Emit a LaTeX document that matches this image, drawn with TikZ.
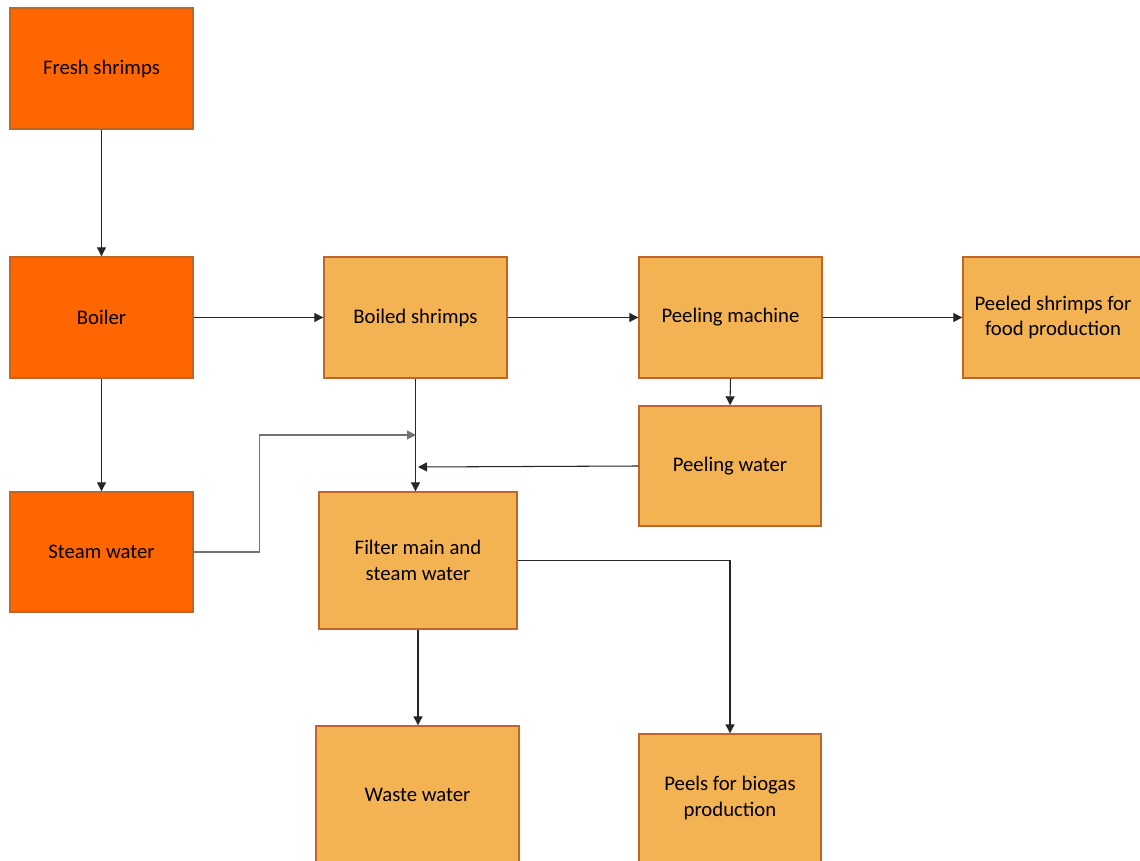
\documentclass[tikz,border=0pt]{standalone}
\usepackage{fontspec}
\setmainfont{Carlito}
\usepackage{xcolor}
\usetikzlibrary{arrows.meta,calc}
\definecolor{darkorange}{HTML}{FF6600}
\definecolor{lightorange}{HTML}{F4B352}
\definecolor{boxedge}{HTML}{C0652A}

\begin{document}
\begin{tikzpicture}[>={Triangle[length=1.8mm,width=1.8mm]},x=0.02cm,y=-0.02cm]
  \tikzset{
    stage/.style={draw=boxedge,line width=0.8pt,align=center,inner sep=2pt,
      font=\fontsize{11.8}{14.6}\selectfont},
    rawbox/.style={stage,fill=darkorange},
    prodbox/.style={stage,fill=lightorange},
    flow/.style={->,line width=0.6pt,black!85}
  }
  \useasboundingbox (0,0) rectangle (1140,861);
  \clip (0,0) rectangle (1140,861);
  \node[rawbox,minimum width=3.66cm,minimum height=2.42cm] (fresh) at (101.5,68.5) {Fresh shrimps};
  \node[rawbox,minimum width=3.66cm,minimum height=2.42cm] (boiler) at (101.5,317.5) {Boiler};
  \node[rawbox,minimum width=3.66cm,minimum height=2.40cm] (steam) at (101.5,552) {Steam water};
  \node[prodbox,minimum width=3.66cm,minimum height=2.42cm] (boiled) at (415.5,317.5) {Boiled shrimps};
  \node[prodbox,minimum width=3.66cm,minimum height=2.42cm] (peeling) at (730.5,317.5) {Peeling machine};
  \node[prodbox,minimum width=3.60cm,minimum height=2.42cm] (peeled) at (1053,317.5) {Peeled shrimps for\\food production};
  \node[prodbox,minimum width=3.64cm,minimum height=2.40cm] (pwater) at (730,466) {Peeling water};
  \node[prodbox,minimum width=3.96cm,minimum height=2.74cm] (filter) at (418,560.5) {Filter main and\\steam water};
  \node[prodbox,minimum width=4.06cm,minimum height=2.76cm] (waste) at (417.5,795) {Waste water};
  \node[prodbox,minimum width=3.64cm,minimum height=2.56cm] (biogas) at (730,798) {Peels for biogas\\production};
  \coordinate (jsteam) at (416,435);
  \coordinate (jpeel) at (418,467);
  \draw[flow] (fresh) -- (boiler);
  \draw[flow] (boiler) -- (boiled);
  \draw[flow] (boiled) -- (peeling);
  \draw[flow] (peeling) -- (peeled);
  \draw[flow] (boiler) -- (steam);
  \draw[flow] (peeling.south) -- (pwater.north);
  \draw[flow] (boiled.south) -- (boiled.south |- filter.north);
  \draw[flow,black!55] (steam.east) -- ++(66,0) |- (jsteam);
  \draw[flow] (pwater.west) -- (jpeel);
  \draw[flow] (filter.east) -| (biogas.north);
  \draw[flow] (filter.south) -- (filter.south |- waste.north);
\end{tikzpicture}
\end{document}
